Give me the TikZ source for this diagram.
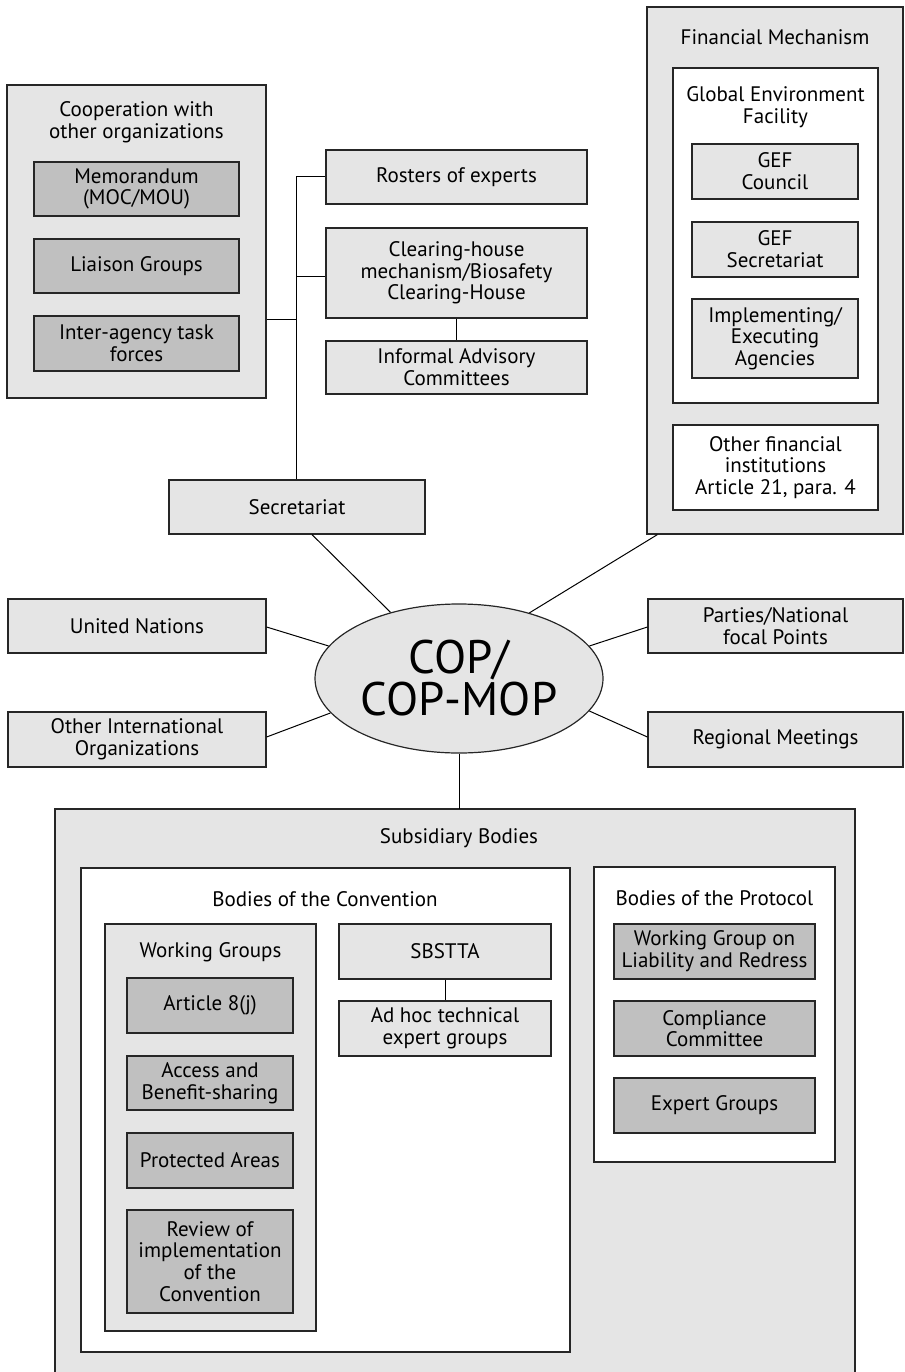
\documentclass[tikz,border=0pt]{standalone}
\usepackage{fontspec}
\setmainfont{PT Sans}
\usetikzlibrary{shapes.geometric}
\definecolor{lg}{HTML}{E5E5E5}
\definecolor{dg}{HTML}{C0C0C0}
\definecolor{bd}{HTML}{262626}
\tikzset{
  base/.style={draw=bd, line width=1.2pt, inner sep=0pt, align=center,
    font=\fontsize{21}{21.7}\selectfont},
  lbox/.style={base, fill=lg},
  dbox/.style={base, fill=dg},
  wbox/.style={base, fill=white},
  cont/.style={draw=bd, line width=1.2pt},
  ttl/.style={inner sep=0pt, align=center, font=\fontsize{21}{21.7}\selectfont},
  conn/.style={draw=black, line width=1pt},
}
\newcommand{\bx}[7]{% style, name, x1,y1,x2,y2, text
  \node[#1, minimum width={(#5)-(#3)}, minimum height={(#6)-(#4)}] (#2) at ({((#3)+(#5))/2},{((#4)+(#6))/2}) {#7};}
\begin{document}
\begin{tikzpicture}[x=1pt,y=-1pt]
\useasboundingbox (0,0) rectangle (904,1372);
% ---------- Cooperation ----------
\bx{lbox}{coop}{7}{85}{266}{398}{}
\node[ttl] (cooptitle) at (136.5,122.5) {Cooperation with\\other organizations};
\bx{dbox}{memo}{34}{162}{239}{216}{Memorandum\\(MOC/MOU)}
\bx{dbox}{liai}{34}{239}{239}{293}{Liaison Groups}
\bx{dbox}{inter}{34}{316}{239}{371}{Inter-agency task\\forces}
% ---------- Secretariat branch ----------
\bx{lbox}{ros}{326}{150}{587}{204}{Rosters of experts}
\bx{lbox}{clr}{326}{228}{587}{318}{Clearing-house\\mechanism/Biosafety\\Clearing-House}
\bx{lbox}{inf}{326}{341}{587}{394}{Informal Advisory\\Committees}
\bx{lbox}{sec}{169}{480}{425}{534}{Secretariat}
\coordinate (tTop) at (296,177);
\coordinate (tMid) at (296,276);
\coordinate (tCoop) at (296,319);
\draw[conn] (tTop) -- (tTop |- sec.north);
\draw[conn] (tTop) -- (tTop -| ros.west);
\draw[conn] (tMid) -- (tMid -| clr.west);
\draw[conn] (tCoop) -- (tCoop -| coop.east);
\draw[conn] (clr.south) -- (inf.north);
% ---------- Financial ----------
\bx{lbox}{fin}{647}{7}{903}{534}{}
\node[ttl] (fintitle) at (775,37) {Financial Mechanism};
\bx{wbox}{gef}{673}{68}{878}{403}{}
\node[ttl] (geftitle) at (775.5,107) {Global Environment\\Facility};
\bx{lbox}{gefc}{692}{144}{858}{199}{GEF\\Council}
\bx{lbox}{gefs}{692}{222}{858}{277}{GEF\\Secretariat}
\bx{lbox}{impl}{692}{299}{858}{378}{Implementing/\\Executing\\Agencies}
\bx{wbox}{ofin}{673}{425}{878}{510}{Other financial\\institutions\\Article 21, para. 4}
% ---------- Side boxes ----------
\bx{lbox}{un}{8}{599}{266}{653}{United Nations}
\bx{lbox}{oio}{8}{712}{266}{767}{Other International\\Organizations}
\bx{lbox}{par}{648}{599}{903}{653}{Parties/National\\focal Points}
\bx{lbox}{reg}{648}{712}{903}{767}{Regional Meetings}
% ---------- COP ----------
\node[ellipse, draw=bd, line width=1.2pt, fill=lg, inner sep=0pt,
  minimum width=288, minimum height=149, align=center,
  font=\fontsize{47}{42}\selectfont] (cop) at (459,678.5) {COP/\\COP-MOP};
\draw[conn] ([xshift=15]sec.south) -- (cop.136.7);
\draw[conn] ([xshift=11]fin.south west) -- (cop.43.7);
\draw[conn] ([yshift=-1]un.east) -- (cop.166.9);
\draw[conn] ([yshift=2.5]oio.east) -- (cop.195.3);
\draw[conn] ([yshift=-1]par.west) -- (cop.14.4);
\draw[conn] ([yshift=2.5]reg.west) -- (cop.346);
% ---------- Subsidiary ----------
\coordinate (subTL) at (55,809);
\coordinate (subTR) at (855,809);
\fill[lg] (55,809) rectangle (855,1380);
\draw[cont] (55,1380) -- (subTL) -- (subTR) -- (855,1380);
\node[ttl] (subtitle) at (459,838) {Subsidiary Bodies};
\draw[conn] (cop.south) -- (cop.south |- subTL);
% Convention
\bx{wbox}{conv}{81}{868}{570}{1352}{}
\node[ttl] (convtitle) at (325,899) {Bodies of the Convention};
\bx{lbox}{wg}{105}{924}{316}{1331}{}
\node[ttl] (wgtitle) at (210.5,952) {Working Groups};
\bx{dbox}{art}{127}{978}{293}{1033}{Article 8(j)}
\bx{dbox}{abs}{127}{1056}{293}{1110}{Access and\\Benefit-sharing}
\bx{dbox}{pa}{127}{1133}{293}{1188}{Protected Areas}
\bx{dbox}{rev}{127}{1210}{293}{1313}{Review of\\implementation\\of the\\Convention}
\bx{lbox}{sbs}{339}{924}{551}{979}{SBSTTA}
\bx{lbox}{adh}{339}{1001}{551}{1056}{Ad hoc technical\\expert groups}
\draw[conn] (sbs.south) -- (adh.north);
% Protocol
\bx{wbox}{prot}{594}{867}{835}{1162}{}
\node[ttl] (prottitle) at (714.5,898) {Bodies of the Protocol};
\bx{dbox}{wglr}{614}{924}{815}{979}{Working Group on\\Liability and Redress}
\bx{dbox}{comp}{614}{1001}{815}{1056}{Compliance\\Committee}
\bx{dbox}{expg}{614}{1078}{815}{1133}{Expert Groups}
\end{tikzpicture}
\end{document}
